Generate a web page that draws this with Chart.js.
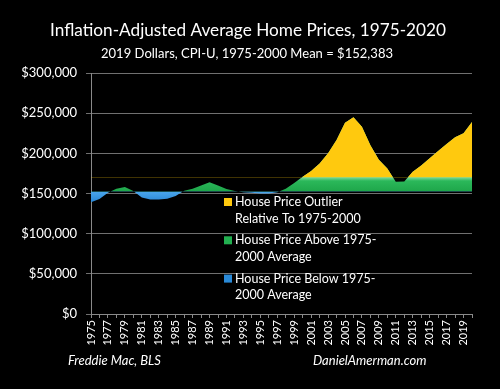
<!DOCTYPE html>
<html lang="en">
<head>
<meta charset="UTF-8">
<title>Inflation-Adjusted Average Home Prices</title>
<style>
  * { margin: 0; padding: 0; box-sizing: border-box; }
  html, body { width: 500px; height: 389px; background: #000; overflow: hidden; }
  .container { width: 500px; height: 389px; }
</style>
<script src="https://cdn.jsdelivr.net/npm/chart.js"></script>
</head>
<body>
<div class="container"><canvas id="homeChart" width="500" height="389"></canvas></div>
<script>
// values (2019 dollars)
const years = [1975, 1976, 1977, 1978, 1979, 1980, 1981, 1982, 1983, 1984,
  1985, 1986, 1987, 1988, 1989, 1990, 1991, 1992, 1993, 1994,
  1995, 1996, 1997, 1998, 1999, 2000, 2001, 2002, 2003, 2004,
  2005, 2006, 2007, 2008, 2009, 2010, 2011, 2012, 2013, 2014,
  2015, 2016, 2017, 2018, 2019, 2020];
const prices = [139000, 143000, 151000, 156000, 158000, 153000, 145000, 142500, 142500, 143500,
  147000, 153500, 156000, 160000, 164000, 160000, 155500, 153000, 151500, 151000,
  150000, 150000, 151500, 156000, 163000, 171000, 178000, 187500, 200000, 216500,
  238000, 245000, 233000, 210000, 192000, 181000, 164500, 165000, 177000, 185000,
  194000, 203000, 211500, 220000, 225000, 239000];
const meanPrice = 152383;
const outlierLevel = 170000;
const yMax = 300000;
const yStep = 50000;

const titleText = 'Inflation-Adjusted Average Home Prices, 1975-2020';
const subtitleText = '2019 Dollars, CPI-U, 1975-2000 Mean = $152,383';
const sourceText = 'Freddie Mac, BLS';
const siteText = 'DanielAmerman.com';
const legendLabels = [
  ['House Price Outlier', 'Relative To 1975-2000'],
  ['House Price Above 1975-', '2000 Average'],
  ['House Price Below 1975-', '2000 Average']
];

const yellow = '#ffc90e';
const green = '#22b050';
const blue = '#2a8ad8';
const legendColors = [yellow, green, blue];
const axisGray = '#8a8a8a';

const decor = {
  id: 'decor',
  afterDraw(chart) {
    const ctx = chart.ctx;
    ctx.save();
    ctx.fillStyle = '#fff';
    ctx.textBaseline = 'middle';
    ctx.textAlign = 'center';
    ctx.font = '18px Lato';
    ctx.fillText(titleText, 248, 30, 396);
    ctx.font = '14px Lato';
    ctx.fillText(subtitleText, 247, 53, 292);

    ctx.font = 'italic 13px Lato';
    ctx.textAlign = 'left';
    ctx.fillText(sourceText, 68, 361);
    ctx.fillText(siteText, 313, 361);

    // legend inside the plot area
    ctx.font = '12.5px Lato';
    let y = 202;
    legendLabels.forEach((lines, i) => {
      ctx.fillStyle = legendColors[i];
      ctx.fillRect(224, y - 4, 8, 8);
      ctx.fillStyle = '#fff';
      lines.forEach((line, j) => {
        ctx.fillText(line, 235, y + j * 16.5);
      });
      y += 38.3;
    });
    ctx.restore();
  }
};

const ctx = document.getElementById('homeChart').getContext('2d');
const chart = new Chart(ctx, {
  type: 'line',
  data: {
    labels: years,
    datasets: [
      {
        label: 'Outlier',
        data: prices,
        borderWidth: 0,
        pointRadius: 0,
        tension: 0,
        order: 1,
        fill: { target: { value: outlierLevel }, above: yellow, below: 'rgba(0,0,0,0)' }
      },
      {
        label: 'Above / Below',
        data: prices,
        borderWidth: 0,
        pointRadius: 0,
        tension: 0,
        order: 2,
        fill: { target: { value: meanPrice }, above: green, below: blue }
      }
    ]
  },
  options: {
    responsive: false,
    animation: false,
    layout: { padding: { top: 73, right: 28, left: 0, bottom: 0 } },
    plugins: {
      legend: { display: false },
      tooltip: { enabled: false }
    },
    scales: {
      x: {
        offset: false,
        grid: { drawOnChartArea: false, drawTicks: true, tickLength: 4, color: axisGray },
        border: { display: true, color: axisGray },
        ticks: {
          autoSkip: false,
          maxRotation: 90,
          minRotation: 90,
          padding: 2,
          color: '#fff',
          font: { family: 'Lato', size: 11 },
          callback: (v, i) => (i % 2 === 0 ? years[i] : '')
        },
        afterFit: (scale) => { scale.height = 75; }
      },
      y: {
        min: 0,
        max: yMax,
        grid: { color: '#707070', tickLength: 5 },
        border: { display: true, color: axisGray },
        ticks: {
          stepSize: yStep,
          padding: 9,
          color: '#fff',
          font: { family: 'Lato', size: 13 },
          callback: (v) => '$' + v.toLocaleString('en-US')
        },
        afterFit: (scale) => { scale.width = 91; }
      }
    }
  },
  plugins: [decor]
});

// lighter bevel along the top of the green band
const yScale = chart.scales.y;
const g = ctx.createLinearGradient(0, yScale.getPixelForValue(outlierLevel), 0, yScale.getPixelForValue(meanPrice));
g.addColorStop(0, '#7ad89a');
g.addColorStop(0.25, '#2bb85a');
g.addColorStop(1, '#1ea64a');
const bb = ctx.createLinearGradient(0, yScale.getPixelForValue(meanPrice), 0, yScale.getPixelForValue(135000));
bb.addColorStop(0, '#4aa6ec');
bb.addColorStop(1, '#1f7ccc');
chart.data.datasets[1].fill.above = g;
chart.data.datasets[1].fill.below = bb;
chart.update('none');
</script>
</body>
</html>
